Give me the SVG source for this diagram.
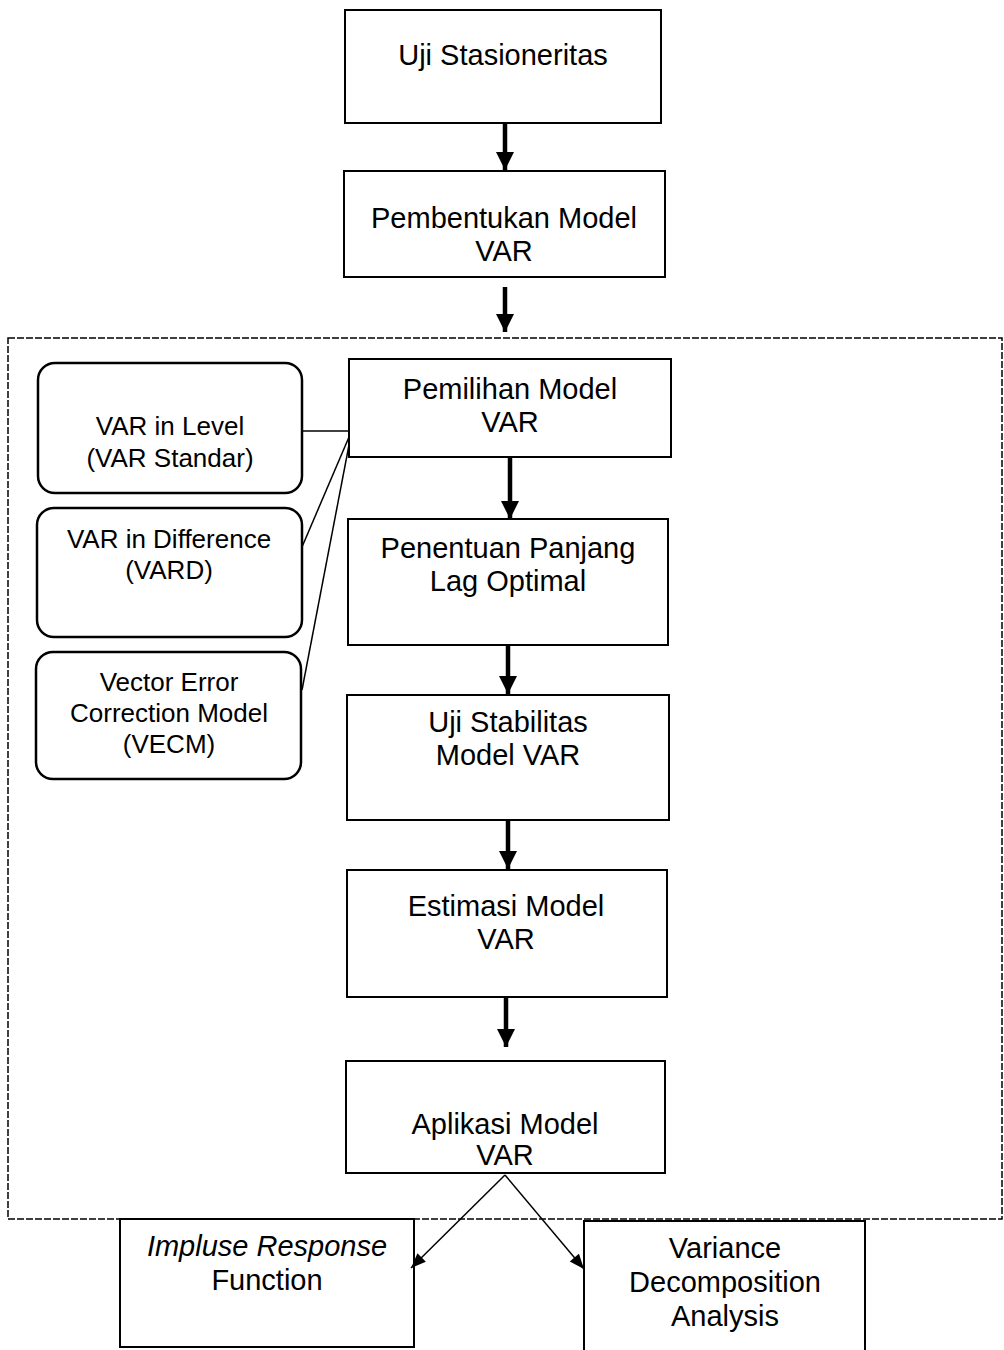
<svg xmlns="http://www.w3.org/2000/svg" width="1004" height="1350" viewBox="0 0 1004 1350">
<style>
.box{fill:#fff;stroke:#000;stroke-width:2}
.rbox{fill:#fff;stroke:#000;stroke-width:2.5}
.frame{fill:none;stroke:#000;stroke-width:1.5;stroke-dasharray:7 2}
.t{font-family:"Liberation Sans",Arial,sans-serif;font-size:29px;fill:#000;text-anchor:middle}
.s{font-family:"Liberation Sans",Arial,sans-serif;font-size:26px;fill:#000;text-anchor:middle}
.i{font-style:italic}
.ln{stroke:#000;stroke-width:1.5;fill:none}
.ar{stroke:#000;stroke-width:4.5;fill:none}
.ad{stroke:#000;stroke-width:1.5;fill:none}
</style>
<defs>
<marker id="thick" viewBox="0 0 10 10" refX="10" refY="5" markerWidth="4" markerHeight="4" markerUnits="strokeWidth" orient="auto">
<path d="M0,0 L10,5 L0,10 z" fill="#000"/>
</marker>
<marker id="thin" viewBox="0 0 10 10" refX="10" refY="5" markerWidth="12" markerHeight="10" markerUnits="strokeWidth" orient="auto">
<path d="M0,1 L10,5 L0,9 z" fill="#000"/>
</marker>
</defs>
<rect id="frame" class="frame" x="8" y="338" width="994" height="881"/>
<g id="n1"><rect class="box" x="345" y="10" width="316" height="113"/><text class="t" x="503" y="65">Uji Stasioneritas</text></g>
<g id="n2"><rect class="box" x="344" y="171" width="321" height="106"/><text class="t" x="504" y="228">Pembentukan Model</text><text class="t" x="504" y="261">VAR</text></g>
<g id="n3"><rect class="box" x="349" y="359" width="322" height="98"/><text class="t" x="510" y="399">Pemilihan Model</text><text class="t" x="510" y="432">VAR</text></g>
<g id="n4"><rect class="box" x="348" y="519" width="320" height="126"/><text class="t" x="508" y="558">Penentuan Panjang</text><text class="t" x="508" y="591">Lag Optimal</text></g>
<g id="n5"><rect class="box" x="347" y="695" width="322" height="125"/><text class="t" x="508" y="732">Uji Stabilitas</text><text class="t" x="508" y="765">Model VAR</text></g>
<g id="n6"><rect class="box" x="347" y="870" width="320" height="127"/><text class="t" x="506" y="916">Estimasi Model</text><text class="t" x="506" y="949">VAR</text></g>
<g id="n7"><rect class="box" x="346" y="1061" width="319" height="112"/><text class="t" x="505" y="1134">Aplikasi Model</text><text class="t" x="505" y="1165">VAR</text></g>
<g id="r1"><rect class="rbox" x="38" y="363" width="264" height="130" rx="17"/><text class="s" x="170" y="435">VAR in Level</text><text class="s" x="170" y="467">(VAR Standar)</text></g>
<g id="r2"><rect class="rbox" x="37" y="508" width="265" height="129" rx="17"/><text class="s" x="169" y="548">VAR in Difference</text><text class="s" x="169" y="579">(VARD)</text></g>
<g id="r3"><rect class="rbox" x="36" y="652" width="265" height="127" rx="17"/><text class="s" x="169" y="691">Vector Error</text><text class="s" x="169" y="722">Correction Model</text><text class="s" x="169" y="753">(VECM)</text></g>
<g id="b1"><rect class="box" x="120" y="1219" width="294" height="128"/><text class="t i" x="267" y="1256">Impluse Response</text><text class="t" x="267" y="1290">Function</text></g>
<g id="b2"><rect class="box" x="584" y="1221" width="281" height="135"/><text class="t" x="725" y="1258">Variance</text><text class="t" x="725" y="1292">Decomposition</text><text class="t" x="725" y="1326">Analysis</text></g>
<g id="connectors">
<line class="ar" x1="505" y1="123" x2="505" y2="170" marker-end="url(#thick)"/>
<line class="ar" x1="505" y1="287" x2="505" y2="332" marker-end="url(#thick)"/>
<line class="ar" x1="510" y1="458" x2="510" y2="519" marker-end="url(#thick)"/>
<line class="ar" x1="508" y1="646" x2="508" y2="694" marker-end="url(#thick)"/>
<line class="ar" x1="508" y1="821" x2="508" y2="869" marker-end="url(#thick)"/>
<line class="ar" x1="506" y1="998" x2="506" y2="1047" marker-end="url(#thick)"/>
<line class="ln" x1="302" y1="431" x2="349" y2="431"/>
<line class="ln" x1="349" y1="437" x2="302" y2="547"/>
<line class="ln" x1="349" y1="445" x2="302" y2="690"/>
<line class="ad" x1="505" y1="1175" x2="411" y2="1268" marker-end="url(#thin)"/>
<line class="ad" x1="505" y1="1175" x2="584" y2="1269" marker-end="url(#thin)"/>
</g>
</svg>
